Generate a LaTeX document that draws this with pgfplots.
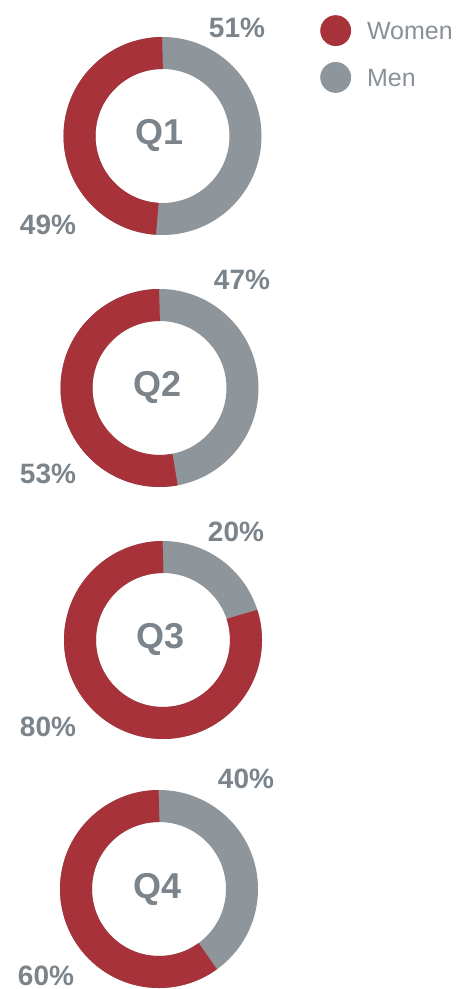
\documentclass[border=0pt]{standalone}
\usepackage{fontspec}
\setmainfont{Liberation Sans}
\usepackage{pgfplots}
\usepackage{pgfplotstable}
\pgfplotsset{compat=1.18}
\definecolor{wred}{HTML}{A8323A}
\definecolor{mgray}{HTML}{8E959B}
\definecolor{tgray}{HTML}{7B838B}
\definecolor{lgray}{HTML}{8A9097}
\pgfplotstableread{
x y women
162.5 136 49
159.5 388 53
163 640 80
159 889 60
}\donuts
\begin{document}
\begin{tikzpicture}
\begin{axis}[name=ax, hide axis, clip=false, x=0.5pt, y=0.5pt, y dir=reverse,
  xmin=0, xmax=455, ymin=0, ymax=989,
  legend style={at={(0.703,0.985)}, anchor=north west, draw=none, fill=none,
    inner sep=0pt, row sep=8pt, font=\fontsize{12.5}{13}\selectfont, text=lgray,
    nodes={inner sep=0pt, text depth=0pt}},
  legend cell align=left,
  legend image code/.code={},
]
\addlegendimage{legend image code/.code={\fill[wred] (7.5pt,0pt) circle[radius=7.5pt]; \path (23pt,0pt);}}
\addlegendentry{Women}
\addlegendimage{legend image code/.code={\fill[mgray] (7.5pt,0pt) circle[radius=7.5pt]; \path (23pt,0pt);}}
\addlegendentry{Men}
\addplot[scatter, only marks, mark=*, mark size=0pt, draw=none, fill=none,
  point meta=explicit symbolic, forget plot,
  scatter/@pre marker code/.code={%
    \pgfmathsetmacro\endang{90+3.6*\pgfplotspointmeta}%
    \scope
    \draw[mgray, line width=16pt] (0,0) circle[radius=41.5pt];
    \draw[wred, line width=16pt] (90:41.5pt) arc[start angle=90, end angle=\endang, radius=41.5pt];
  },
  scatter/@post marker code/.code={\endscope}]
  table[x=x, y=y, meta=women] {\donuts};
\tikzset{pct/.style={text=tgray, font=\bfseries\fontsize{14}{14}\selectfont, inner sep=0pt},
         qlab/.style={text=tgray, font=\bfseries\fontsize{18}{18}\selectfont, inner sep=0pt}}
\node[pct] at (axis cs:237,28) {51\%};
\node[pct] at (axis cs:48,225) {49\%};
\node[pct] at (axis cs:242,280) {47\%};
\node[pct] at (axis cs:48,474) {53\%};
\node[pct] at (axis cs:236,532) {20\%};
\node[pct] at (axis cs:48,727) {80\%};
\node[pct] at (axis cs:246,779) {40\%};
\node[pct] at (axis cs:46,976) {60\%};
\node[qlab] at (axis cs:160,135) {Q1};
\node[qlab] at (axis cs:158,387) {Q2};
\node[qlab] at (axis cs:161,639) {Q3};
\node[qlab] at (axis cs:158,889) {Q4};
\end{axis}
\pgfresetboundingbox
\path (ax.south west) rectangle (ax.north east);
\end{tikzpicture}
\end{document}
